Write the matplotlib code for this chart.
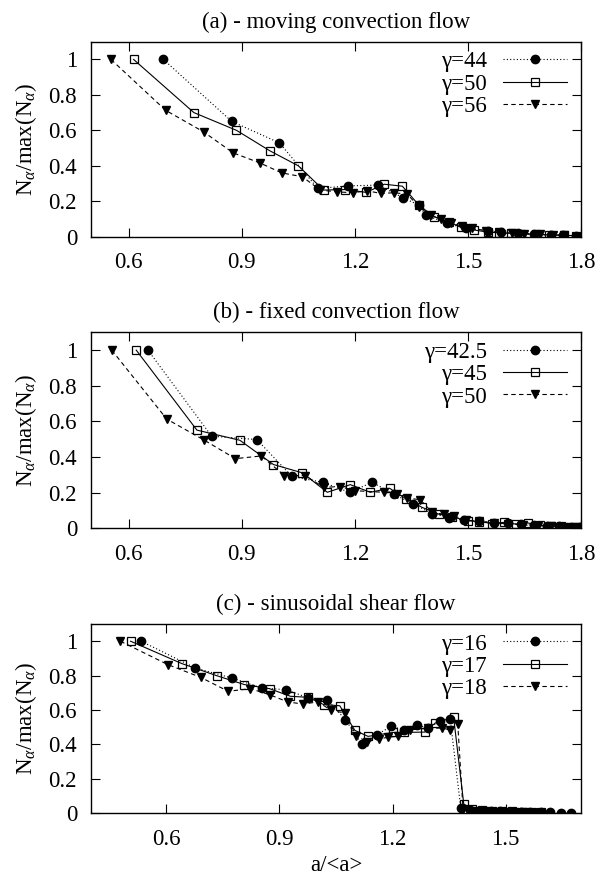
import matplotlib
matplotlib.use("Agg")
import matplotlib.pyplot as plt

plt.rcParams['font.family'] = ['Liberation Serif', 'DejaVu Serif']
plt.rcParams['mathtext.fontset'] = 'custom'
plt.rcParams['mathtext.rm'] = 'Liberation Serif'
plt.rcParams['mathtext.it'] = 'Liberation Serif:italic'

FS = 16.5

# ---------------- Panel (a): moving convection flow ----------------
a_titles = "(a) - moving convection flow"
a_labels = ["γ=44", "γ=50", "γ=56"]
a1_x = [0.692, 0.873, 1.000, 1.102, 1.183, 1.261, 1.327, 1.370, 1.388, 1.445, 1.494,
        1.552, 1.587, 1.632, 1.676, 1.721, 1.752, 1.787]
a1_y = [1.000, 0.651, 0.529, 0.272, 0.287, 0.291, 0.221, 0.178, 0.122, 0.075, 0.047,
        0.034, 0.024, 0.019, 0.013, 0.009, 0.008, 0.006]
a2_x = [0.613, 0.773, 0.886, 0.975, 1.050, 1.117, 1.175, 1.230, 1.278, 1.326, 1.370,
        1.410, 1.450, 1.481, 1.516, 1.552, 1.583, 1.614, 1.640, 1.680, 1.716, 1.756, 1.787]
a2_y = [1.000, 0.700, 0.600, 0.484, 0.400, 0.263, 0.266, 0.250, 0.296, 0.285, 0.178,
        0.113, 0.084, 0.053, 0.038, 0.026, 0.022, 0.019, 0.017, 0.013, 0.011, 0.008, 0.006]
a3_x = [0.553, 0.698, 0.799, 0.877, 0.948, 1.006, 1.061, 1.108, 1.152, 1.195, 1.232,
        1.270, 1.304, 1.339, 1.370, 1.401, 1.428, 1.454, 1.485, 1.512, 1.548, 1.583,
        1.618, 1.650, 1.690, 1.725, 1.756]
a3_y = [1.000, 0.713, 0.591, 0.473, 0.416, 0.360, 0.338, 0.263, 0.253, 0.248, 0.259,
        0.244, 0.248, 0.240, 0.169, 0.122, 0.098, 0.075, 0.060, 0.047, 0.034, 0.024,
        0.019, 0.017, 0.013, 0.009, 0.008]

# ---------------- Panel (b): fixed convection flow ----------------
b_titles = "(b) - fixed convection flow"
b_labels = ["γ=42.5", "γ=45", "γ=50"]
b1_x = [0.651, 0.820, 0.940, 1.033, 1.115, 1.186, 1.246, 1.303, 1.355, 1.405, 1.450,
        1.490, 1.530, 1.570, 1.605, 1.640, 1.676, 1.711, 1.742, 1.773, 1.798]
b1_y = [1.000, 0.517, 0.498, 0.291, 0.258, 0.202, 0.258, 0.192, 0.136, 0.083, 0.060,
        0.045, 0.042, 0.028, 0.032, 0.023, 0.017, 0.013, 0.011, 0.009, 0.008]
b2_x = [0.620, 0.781, 0.895, 0.984, 1.061, 1.127, 1.188, 1.241, 1.292, 1.337, 1.379,
        1.423, 1.459, 1.499, 1.530, 1.565, 1.597, 1.628, 1.659, 1.690, 1.721, 1.748,
        1.774, 1.796]
b2_y = [1.000, 0.551, 0.494, 0.358, 0.311, 0.202, 0.245, 0.202, 0.225, 0.164, 0.117,
        0.079, 0.064, 0.042, 0.038, 0.026, 0.034, 0.023, 0.030, 0.017, 0.013, 0.011,
        0.009, 0.008]
b3_x = [0.555, 0.701, 0.801, 0.883, 0.952, 1.013, 1.068, 1.117, 1.161, 1.201, 1.277,
        1.312, 1.339, 1.374, 1.405, 1.436, 1.463, 1.494, 1.530, 1.570, 1.605, 1.645,
        1.685, 1.720, 1.756, 1.787]
b3_y = [1.000, 0.613, 0.494, 0.391, 0.406, 0.296, 0.296, 0.230, 0.234, 0.211, 0.202,
        0.192, 0.170, 0.160, 0.089, 0.079, 0.070, 0.045, 0.042, 0.028, 0.026, 0.019,
        0.015, 0.013, 0.009, 0.008]

# ---------------- Panel (c): sinusoidal shear flow ----------------
c_titles = "(c) - sinusoidal shear flow"
c_labels = ["γ=16", "γ=17", "γ=18"]
c1_x = [0.533, 0.676, 0.774, 0.853, 0.918, 0.977, 1.027, 1.075, 1.118, 1.158, 1.196,
        1.231, 1.264, 1.293, 1.326, 1.353, 1.381, 1.406, 1.433, 1.460, 1.486, 1.513,
        1.540, 1.566, 1.593, 1.619, 1.646, 1.673]
c1_y = [1.000, 0.845, 0.786, 0.728, 0.718, 0.670, 0.660, 0.544, 0.404, 0.456, 0.505,
        0.485, 0.515, 0.495, 0.534, 0.548, 0.029, 0.019, 0.016, 0.012, 0.012, 0.010,
        0.008, 0.008, 0.006, 0.006, 0.004, 0.004]
c2_x = [0.505, 0.641, 0.733, 0.807, 0.874, 0.929, 0.976, 1.018, 1.060, 1.100, 1.135,
        1.202, 1.230, 1.286, 1.313, 1.362, 1.389, 1.410, 1.437, 1.464, 1.490, 1.517,
        1.544, 1.570, 1.593]
c2_y = [1.000, 0.870, 0.800, 0.748, 0.724, 0.680, 0.674, 0.631, 0.625, 0.482, 0.447,
        0.470, 0.470, 0.472, 0.524, 0.559, 0.054, 0.025, 0.019, 0.016, 0.014, 0.012,
        0.010, 0.010, 0.008]
c3_x = [0.478, 0.604, 0.691, 0.764, 0.823, 0.874, 0.922, 0.962, 1.002, 1.038, 1.073,
        1.104, 1.131, 1.165, 1.189, 1.215, 1.246, 1.295, 1.331, 1.353, 1.373, 1.387,
        1.415, 1.442, 1.468, 1.495, 1.522, 1.548, 1.579]
c3_y = [1.000, 0.864, 0.790, 0.709, 0.724, 0.689, 0.647, 0.635, 0.647, 0.598, 0.583,
        0.450, 0.417, 0.431, 0.443, 0.447, 0.485, 0.495, 0.495, 0.485, 0.520, 0.023,
        0.016, 0.012, 0.010, 0.008, 0.006, 0.006, 0.004]

x_ticks_ab = [0.6, 0.9, 1.2, 1.5, 1.8]
x_ticks_c = [0.6, 0.9, 1.2, 1.5]
y_ticks = [0, 0.2, 0.4, 0.6, 0.8, 1]
y_ticklabels = ["0", "0.2", "0.4", "0.6", "0.8", "1"]

W, H = 598, 884
fig = plt.figure(figsize=(W / 100, H / 100), dpi=100)

def axes_px(left, top, right, bottom):
    return fig.add_axes([left / W, 1 - bottom / H, (right - left) / W, (bottom - top) / H])

styles = [
    dict(ls=(0, (1, 2)), lw=0.8, marker='o', ms=6, mfc='black', mec='black'),
    dict(ls='-', lw=0.8, marker='s', ms=5.5, mfc='none', mec='black', mew=0.9),
    dict(ls=(0, (4, 3)), lw=0.8, marker='v', ms=5.5, mfc='black', mec='black'),
]

panels = [
    (a_titles, a_labels, [(a1_x, a1_y), (a2_x, a2_y), (a3_x, a3_y)], (0.5, 1.8), x_ticks_ab,
     (91, 41.7, 581, 236.7)),
    (b_titles, b_labels, [(b1_x, b1_y), (b2_x, b2_y), (b3_x, b3_y)], (0.5, 1.8), x_ticks_ab,
     (91, 332.3, 581, 528.3)),
    (c_titles, c_labels, [(c1_x, c1_y), (c2_x, c2_y), (c3_x, c3_y)], (0.4, 1.7), x_ticks_c,
     (91, 624, 581, 813.3)),
]

for i, (title, labels, series, xlim, xt, box) in enumerate(panels):
    ax = axes_px(*box)
    for (xs, ys), lab, st in zip(series, labels, styles):
        ax.plot(xs, ys, color='black', label=lab, **st)
    ax.set_xlim(*xlim)
    ax.set_ylim(0, 1.1)
    ax.set_xticks(xt)
    ax.set_xticklabels([f"{v:g}" for v in xt])
    ax.set_yticks(y_ticks)
    ax.set_yticklabels(y_ticklabels)
    ax.tick_params(direction='in', top=True, right=True, length=6.5, width=0.8,
                   labelsize=FS)
    ax.tick_params(axis='x', pad=11)
    ax.tick_params(axis='y', pad=10)
    for sp in ax.spines.values():
        sp.set_linewidth(1.0)
    ax.set_title(title, fontsize=FS, pad=10)
    ax.set_ylabel(r'N$_\alpha$/max(N$_\alpha$)', fontsize=FS, labelpad=7)
    if i == 2:
        ax.set_xlabel('a/<a>', fontsize=FS, labelpad=4)
    ax.legend(loc='upper right', bbox_to_anchor=(0.972, 0.95), frameon=False,
              markerfirst=False, fontsize=FS, handlelength=2.8, handletextpad=0.7,
              labelspacing=0.05, borderaxespad=0, borderpad=0, numpoints=1)

fig.savefig('out.png', dpi=100)
